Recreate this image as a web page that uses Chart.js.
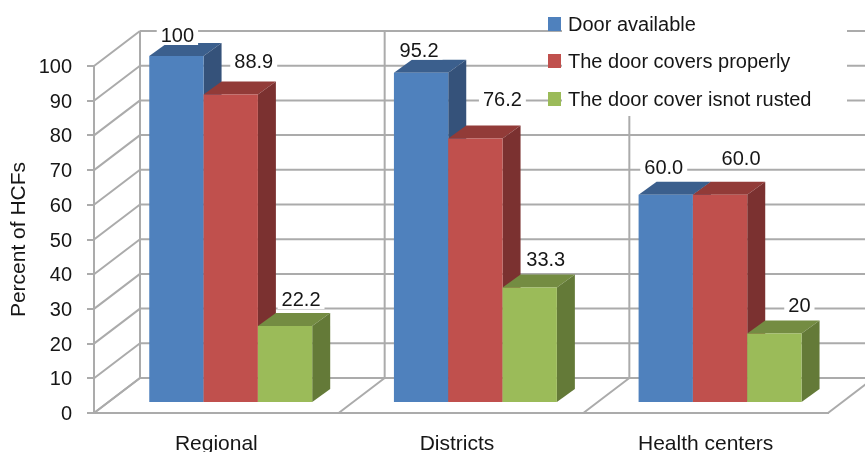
<!DOCTYPE html>
<html>
<head>
<meta charset="utf-8">
<style>
  html, body { margin: 0; padding: 0; background: #fff; }
  #wrap { width: 865px; height: 452px; }
</style>
<script src="https://cdn.jsdelivr.net/npm/chart.js@4"></script>
</head>
<body>
<div id="wrap"><canvas id="c" width="865" height="452"></canvas></div>
<script>
const categories = ["Regional", "Districts", "Health centers"];
const doorAvailable = [100, 95.2, 60.0];
const doorCovers = [88.9, 76.2, 60.0];
const doorNotRusted = [22.2, 33.3, 20];
const valueText = [
  ["100", "95.2", "60.0"],
  ["88.9", "76.2", "60.0"],
  ["22.2", "33.3", "20"]
];
const seriesNames = ["Door available", "The door covers properly", "The door cover isnot rusted"];
const yTicks = [0, 10, 20, 30, 40, 50, 60, 70, 80, 90, 100];

// Face colours per series: front, top, side
const faces = [
  { front: "#4f81bd", top: "#3b5f8d", side: "#35527a" },
  { front: "#c0504d", top: "#923b38", side: "#7b3130" },
  { front: "#9bbb59", top: "#748c42", side: "#647a38" }
];

const FONT = '"Liberation Sans", Arial, sans-serif';
const INK = "#161616";
const GRID = "#ababab";
const WALL = { dx: 46, dy: -35 };      // depth of the floor and side wall
const BAR_PLANE = { dx: 14.4, dy: -10 }; // where the bars stand on the floor
const BAR_DEPTH = { dx: 18, dy: -13 };   // depth of each bar

// Value label placement relative to the top centre of its bar
const labelNudge = [
  [[1, -21], [-2, -23], [-2, -28]],
  [[23, -33.5], [27, -40], [21, -37]],
  [[16, -27], [16, -28], [25, -29]]
];
// Horizontal adjustment of the category captions
const captionShift = [0, -4, 0];

function line(ctx, x1, y1, x2, y2) {
  ctx.beginPath();
  ctx.moveTo(x1, y1);
  ctx.lineTo(x2, y2);
  ctx.stroke();
}

function poly(ctx, pts, fill) {
  ctx.fillStyle = fill;
  ctx.beginPath();
  pts.forEach((p, i) => i ? ctx.lineTo(p[0], p[1]) : ctx.moveTo(p[0], p[1]));
  ctx.closePath();
  ctx.fill();
}

const box3d = {
  id: "box3d",
  beforeDraw(chart) {
    const items = chart.scales.x.getLabelItems();
    if (!items.shifted) {
      items.forEach((item, i) => { item.options.translation[0] += captionShift[i]; });
      items.shifted = true;
    }
  },
  beforeDatasetsDraw(chart) {
    const { ctx, scales: { x, y } } = chart;
    const band = (x.right - x.left) / categories.length;

    // Walls and floor
    ctx.save();
    ctx.strokeStyle = GRID;
    ctx.lineWidth = 2;
    yTicks.forEach(v => {
      const py = y.getPixelForValue(v);
      line(ctx, x.left, py, x.left + WALL.dx, py + WALL.dy);
      line(ctx, x.left + WALL.dx, py + WALL.dy, chart.width, py + WALL.dy);
    });
    const floorY = y.getPixelForValue(0);
    const topY = y.getPixelForValue(100);
    for (let i = 0; i <= categories.length; i++) {
      const px = x.left + i * band;
      line(ctx, px, floorY, px + WALL.dx, floorY + WALL.dy);
      line(ctx, px + WALL.dx, floorY + WALL.dy, px + WALL.dx, topY + WALL.dy);
    }
    ctx.restore();

    // Bars, left to right so that each one hides the side of its neighbour
    ctx.save();
    ctx.translate(BAR_PLANE.dx, BAR_PLANE.dy);
    chart.data.datasets.forEach((ds, s) => {
      chart.getDatasetMeta(s).data.forEach(bar => {
        const l = bar.x - bar.width / 2, r = bar.x + bar.width / 2;
        const t = bar.y, b = bar.base;
        const d = BAR_DEPTH;
        poly(ctx, [[l, t], [l + d.dx, t + d.dy], [r + d.dx, t + d.dy], [r, t]], faces[s].top);
        poly(ctx, [[r, t], [r + d.dx, t + d.dy], [r + d.dx, b + d.dy], [r, b]], faces[s].side);
        bar.draw(ctx);
      });
    });
    ctx.restore();

    // Value labels sit on small white plates that break the grid lines
    ctx.save();
    ctx.font = "20px " + FONT;
    ctx.textAlign = "center";
    ctx.textBaseline = "middle";
    chart.data.datasets.forEach((ds, s) => {
      chart.getDatasetMeta(s).data.forEach((bar, i) => {
        const cx = bar.x + BAR_PLANE.dx + labelNudge[s][i][0];
        const cy = bar.y + BAR_PLANE.dy + labelNudge[s][i][1];
        const w = ctx.measureText(valueText[s][i]).width + 8;
        ctx.fillStyle = "#fff";
        ctx.fillRect(cx - w / 2, cy - 11, w, 21);
        ctx.fillStyle = INK;
        ctx.fillText(valueText[s][i], cx, cy + 1.5);
      });
    });
    ctx.restore();

    // Legend
    ctx.save();
    ctx.fillStyle = "#fff";
    ctx.fillRect(562, 0, 285, 116);
    ctx.font = "20px " + FONT;
    ctx.textAlign = "left";
    ctx.textBaseline = "middle";
    const rows = [24, 61, 99];
    seriesNames.forEach((name, s) => {
      ctx.fillStyle = faces[s].front;
      ctx.fillRect(548, rows[s] - 7, 13, 14);
      ctx.fillStyle = INK;
      ctx.fillText(name, 568, rows[s] + 1);
    });
    ctx.restore();
    return false;
  }
};

new Chart(document.getElementById("c"), {
  type: "bar",
  plugins: [box3d],
  data: {
    labels: categories,
    datasets: [
      { label: seriesNames[0], data: doorAvailable, backgroundColor: faces[0].front },
      { label: seriesNames[1], data: doorCovers, backgroundColor: faces[1].front },
      { label: seriesNames[2], data: doorNotRusted, backgroundColor: faces[2].front }
    ]
  },
  options: {
    responsive: false,
    animation: false,
    devicePixelRatio: 1,
    layout: { padding: { top: 66, right: 37, bottom: 0, left: 0 } },
    datasets: { bar: { categoryPercentage: 0.666, barPercentage: 1, borderWidth: 0 } },
    plugins: { legend: { display: false }, tooltip: { enabled: false } },
    scales: {
      x: {
        afterFit(s) { s.height = 39; },
        grid: { display: false },
        border: { display: true, color: GRID, width: 2 },
        ticks: { color: INK, font: { family: FONT, size: 21 }, padding: 11, maxRotation: 0 }
      },
      y: {
        min: 0,
        max: 100,
        afterFit(s) { s.width = 94; },
        grid: { drawOnChartArea: false, color: GRID, lineWidth: 2, tickLength: 7 },
        border: { display: true, color: GRID, width: 2 },
        title: { display: true, text: "Percent of HCFs", color: INK, font: { family: FONT, size: 21 }, padding: { top: 7, bottom: 0 } },
        ticks: { stepSize: 10, color: INK, font: { family: FONT, size: 20 }, padding: 15, labelOffset: 1.5 }
      }
    }
  }
});
</script>
</body>
</html>
